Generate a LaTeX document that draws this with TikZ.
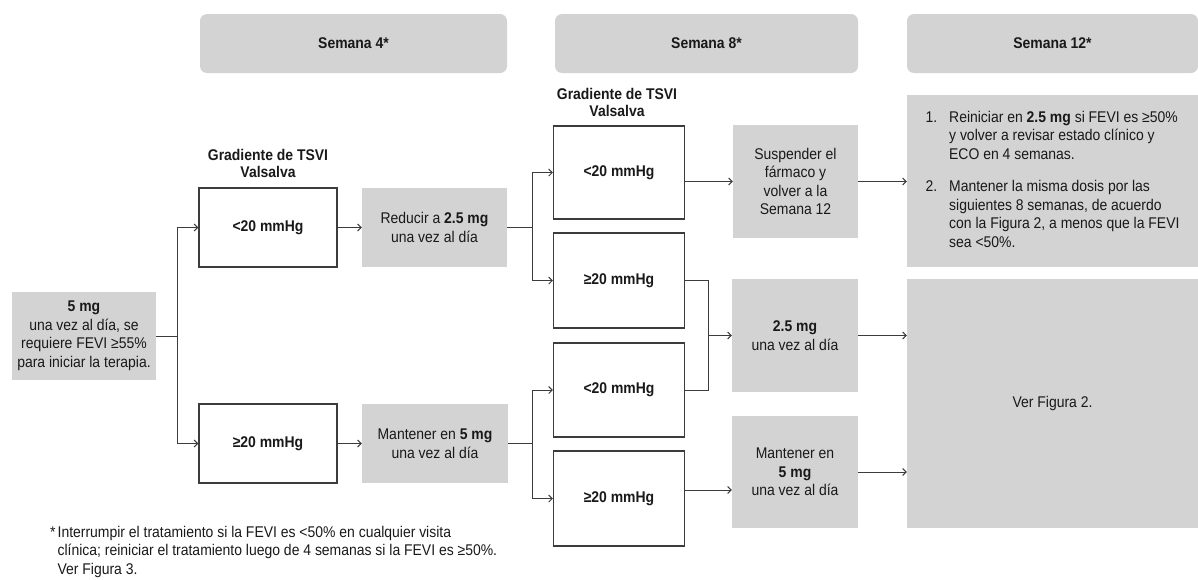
\documentclass[tikz,border=0pt]{standalone}
\usepackage{fontspec}
\setmainfont[FakeStretch=0.9]{Liberation Sans}
\usepackage{tikz}
\usetikzlibrary{arrows.meta}

\definecolor{boxgray}{RGB}{211,211,211}
\definecolor{linegray}{RGB}{60,60,60}
\definecolor{inkgray}{RGB}{25,25,25}

\begin{document}
\begin{tikzpicture}
    [
        x=1pt, y=-1pt,
        every node/.style={inner sep=0pt, text=inkgray, font=\fontsize{15.5}{18.5}\selectfont},
        head/.style={fill=boxgray, rounded corners=7pt, font=\fontsize{15.5}{18.5}\selectfont\bfseries},
        dosebox/.style={fill=boxgray, align=center},
        gradbox/.style={draw=linegray, line width=1.2pt, fill=white, font=\fontsize{15.5}{18.5}\selectfont\bfseries},
        gradlabel/.style={align=center, font=\fontsize{15.5}{17}\selectfont\bfseries},
        link/.style={draw=linegray, line width=1pt},
        linkarrow/.style={link, -{Straight Barb[length=3.5pt, width=7pt]}},
    ]
    
    \useasboundingbox (0, 0) rectangle (1198, 579);
    
    % week headers
    \foreach \name/\cx/\bw/\txt in
    {week4/353.5/307/4, week8/706.5/303/8, week12/1052.5/291/12}
    {
        \node [head, minimum width=\bw pt, minimum height=59pt] (\name) at (\cx, 43.5) {Semana \txt*};
    }
    
    % start
    \node [dosebox, minimum width=144pt, minimum height=88pt] (start) at (84, 336)
        {\textbf{5 mg}\\una vez al día, se\\requiere FEVI ≥55\%\\para iniciar la terapia.};
    
    % week 4
    \node [gradlabel] (label4) at (268, 163) {Gradiente de TSVI\\Valsalva};
    \node [gradbox, minimum width=138pt, minimum height=79pt] (low4) at (268, 227.5) {<20 mmHg};
    \node [gradbox, minimum width=138pt, minimum height=79pt] (high4) at (268, 443.5) {≥20 mmHg};
    \node [dosebox, minimum width=145pt, minimum height=79pt] (reduce4) at (434.5, 227.5)
        {Reducir a \textbf{2.5 mg}\\una vez al día};
    \node [dosebox, minimum width=146pt, minimum height=79pt] (keep4) at (435, 443.5)
        {Mantener en \textbf{5 mg}\\una vez al día};
    
    % week 8
    \node [gradlabel] (label8) at (617, 102) {Gradiente de TSVI\\Valsalva};
    \foreach \name/\cy/\bh/\txt in
    {low8a/172.5/93/<20, high8a/280.5/95/≥20, low8b/390/94/<20, high8b/498.5/95/≥20}
    {
        \node [gradbox, minimum width=131pt, minimum height=\bh pt] (\name) at (619, \cy) {\txt{} mmHg};
    }
    \node [dosebox, minimum width=125pt, minimum height=113pt] (stop8) at (795.5, 181.5)
        {Suspender el\\fármaco y\\volver a la\\Semana 12};
    \node [dosebox, minimum width=126pt, minimum height=113pt] (dose8) at (795, 335.5)
        {\textbf{2.5 mg}\\una vez al día};
    \node [dosebox, minimum width=126pt, minimum height=112pt] (keep8) at (795, 472)
        {Mantener en\\\textbf{5 mg}\\una vez al día};
    
    % week 12
    \node [dosebox, minimum width=291pt, minimum height=172pt] (plan12) at (1052.5, 181)
        {\begin{tabular}{@{}l@{\hspace{12pt}}l@{}}
            1. & Reiniciar en \textbf{2.5 mg} si FEVI es ≥50\% \\
               & y volver a revisar estado clínico y \\
               & ECO en 4 semanas. \\[14pt]
            2. & Mantener la misma dosis por las \\
               & siguientes 8 semanas, de acuerdo \\
               & con la Figura 2, a menos que la FEVI \\
               & sea <50\%.
        \end{tabular}};
    \node [dosebox, minimum width=291pt, minimum height=249pt] (fig12) at (1052.5, 403.5) {Ver Figura 2.};
    
    % footnote
    \node [anchor=west, align=left] (note) at (50, 552)
        {\begin{tabular}{@{}l@{\hspace{2pt}}l@{}}
            * & Interrumpir el tratamiento si la FEVI es <50\% en cualquier visita \\
              & clínica; reiniciar el tratamiento luego de 4 semanas si la FEVI es ≥50\%. \\
              & Ver Figura 3.
        \end{tabular}};
    
    % connectors
    \coordinate (split4) at (177, 336);
    \draw [link] (start) -- (split4);
    \draw [linkarrow] (split4) |- (low4);
    \draw [linkarrow] (split4) |- (high4);
    \draw [linkarrow] (low4) -- (reduce4);
    \draw [linkarrow] (high4) -- (keep4);
    
    \coordinate (split8a) at (532, 227.5);
    \draw [link] (reduce4) -- (split8a);
    \draw [linkarrow] (split8a) |- (low8a);
    \draw [linkarrow] (split8a) |- (high8a);
    \coordinate (split8b) at (532, 443.5);
    \draw [link] (keep4) -- (split8b);
    \draw [linkarrow] (split8b) |- (low8b);
    \draw [linkarrow] (split8b) |- (high8b);
    
    \draw [linkarrow] (low8a.east |- stop8) -- (stop8);
    \coordinate (merge8) at (708, 335.5);
    \draw [link] (high8a) -| (merge8);
    \draw [link] (low8b) -| (merge8);
    \draw [linkarrow] (merge8) -- (dose8);
    \draw [linkarrow] ([yshift=8.5pt]high8b.east) -- ([yshift=8.5pt]high8b.east -| keep8.west);
    
    \draw [linkarrow] (stop8) -- (stop8 -| plan12.west);
    \draw [linkarrow] (dose8) -- (dose8 -| fig12.west);
    \draw [linkarrow] (keep8) -- (keep8 -| fig12.west);
    
\end{tikzpicture}
\end{document}
